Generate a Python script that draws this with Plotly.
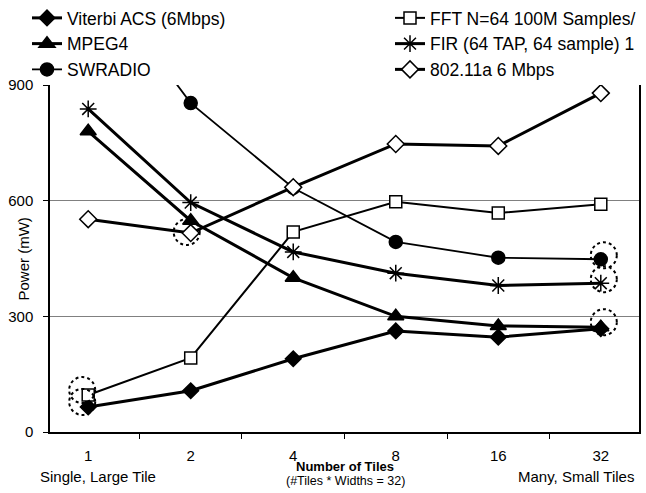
import plotly.graph_objects as go

tiles = ["1", "2", "4", "8", "16", "32"]
viterbi = [65, 107, 190, 262, 246, 268]
mpeg4 = [780, 548, 400, 300, 275, 272]
swradio = [1210, 853, 633, 493, 452, 448]
fft = [96, 192, 519, 597, 568, 591]
fir = [838, 595, 467, 412, 380, 386]
wlan = [552, 516, 635, 747, 742, 879]

y_ticks = [0, 300, 600, 900]

FONT = "Liberation Sans, Arial, sans-serif"
NARROW = "Liberation Sans Narrow, Arial Narrow, Liberation Sans, Arial, sans-serif"

W, H = 646, 493
L, T, R, B = 50, 85, 7, 61
PW, PH = W - L - R, H - T - B

fig = go.Figure()

def add(name, y, symbol, size, lw, fill, legend, msize_line=1.5):
    fig.add_trace(go.Scatter(
        x=tiles, y=y, name=name, mode="lines+markers",
        line=dict(color="black", width=lw),
        marker=dict(symbol=symbol, size=size, color=fill,
                    line=dict(color="black", width=msize_line)),
        legend=legend,
    ))

add("Viterbi ACS (6Mbps)", viterbi, "diamond", 12, 3, "black", "legend")
add("MPEG4", mpeg4, "triangle-up", 14, 3, "black", "legend")
add("SWRADIO", swradio, "circle", 13, 1.8, "black", "legend")
add("FFT N=64 100M Samples/", fft, "square", 12, 2, "white", "legend2")
add("FIR (64 TAP, 64 sample) 1", fir, "asterisk-open", 14, 3, "black", "legend2", 1.5)
add("802.11a 6 Mbps", wlan, "diamond", 13, 3, "white", "legend2")

# dotted circles highlighting selected points
circled = [(fft, 0, -6, 5), (viterbi, 0, -6, 5), (wlan, 1, -4, 1),
           (swradio, 5, 3, 4), (fir, 5, 3, 4), (mpeg4, 5, 3, 5)]
for series, i, dx, dy in circled:
    r = 13
    fig.add_shape(type="circle", xref="x", yref="y",
                  xsizemode="pixel", ysizemode="pixel",
                  xanchor=i, yanchor=series[i],
                  x0=dx - r, x1=dx + r, y0=dy - r, y1=dy + r,
                  line=dict(color="black", width=2, dash="dot"))

def px(x):
    return (x - L) / PW

def py(y):
    return 1 - (y - T) / PH

fig.update_layout(
    width=W, height=H,
    margin=dict(l=L, r=R, t=T, b=B, autoexpand=False),
    paper_bgcolor="white", plot_bgcolor="white",
    font=dict(family=FONT, size=15, color="black"),
    showlegend=True,
    legend=dict(xref="container", yref="container", x=27 / W, y=1.0,
                xanchor="left", yanchor="top", bgcolor="rgba(0,0,0,0)",
                font=dict(size=17.5, family=FONT), itemwidth=30,
                tracegroupgap=0),
    legend2=dict(xref="container", yref="container", x=390 / W, y=1.0,
                 xanchor="left", yanchor="top", bgcolor="rgba(0,0,0,0)",
                 font=dict(size=17.5, family=FONT), itemwidth=30,
                 tracegroupgap=0),
    xaxis=dict(type="category", categoryorder="array", categoryarray=tiles,
               showline=True, linecolor="black", linewidth=1.5,
               ticks="outside", tickson="boundaries", ticklen=5,
               tickcolor="black", showgrid=False, zeroline=False,
               ticklabelstandoff=9, tickfont=dict(size=15)),
    yaxis=dict(range=[0, 900], tickvals=y_ticks,
               showline=True, linecolor="black", linewidth=1.5, mirror=True,
               ticks="outside", ticklen=5, tickcolor="black",
               showgrid=True, gridcolor="#808080", gridwidth=1,
               zeroline=False, tickfont=dict(size=15),
               ticklabelstandoff=7),
    annotations=[
        dict(text="Power (mW)", xref="paper", yref="paper",
             x=px(22.5), y=py(259), xanchor="center", yanchor="middle",
             textangle=-90, showarrow=False, font=dict(size=15)),
        dict(text="Single, Large Tile", xref="paper", yref="paper",
             x=px(98), y=py(476), xanchor="center", yanchor="middle",
             showarrow=False, font=dict(size=15)),
        dict(text="Many, Small Tiles", xref="paper", yref="paper",
             x=px(636), y=py(476), xanchor="right", yanchor="middle",
             showarrow=False, font=dict(size=15)),
        dict(text="<b>Number of Tiles</b>", xref="paper", yref="paper",
             x=px(345), y=py(466), xanchor="center", yanchor="middle",
             showarrow=False, font=dict(size=13, family=NARROW)),
        dict(text="(#Tiles * Widths = 32)", xref="paper", yref="paper",
             x=px(345), y=py(481), xanchor="center", yanchor="middle",
             showarrow=False, font=dict(size=12.5)),
    ],
)

fig.write_html("out.html", config={"displayModeBar": False},
               post_script="document.body.style.margin='0';")
